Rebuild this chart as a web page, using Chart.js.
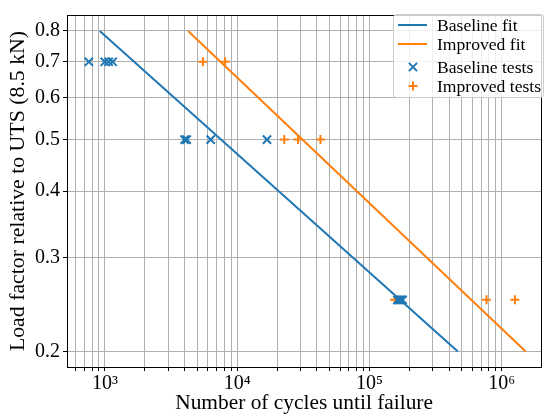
<!DOCTYPE html>
<html lang="en">
<head>
  <meta charset="UTF-8"/>
  <title>S-N curve</title>
  <script src="https://cdn.jsdelivr.net/npm/chart.js"></script>
  <style>
    html, body { margin: 0; padding: 0; background: #fff; }
    #wrap { width: 549px; height: 416px; }
  </style>
</head>
<body>
  <div id="wrap"><canvas id="snChart"></canvas></div>
  <script>
    // test data (cycles, load factor)
    const baselineCycles = [755, 995, 1066, 1143, 4000, 4150, 6300, 16800, 163000, 168000, 173000, 178000]
    const baselineLoad = [0.7, 0.7, 0.7, 0.7, 0.5, 0.5, 0.5, 0.5, 0.25, 0.25, 0.25, 0.25]
    const improvedCycles = [5500, 8100, 22700, 28800, 42600, 155000, 768000, 1260000]
    const improvedLoad = [0.7, 0.7, 0.5, 0.5, 0.5, 0.25, 0.25, 0.25]
    // fitted lines, end points
    const baselineFitCycles = [913, 466000]
    const baselineFitLoad = [0.8, 0.2]
    const improvedFitCycles = [4250, 1520000]
    const improvedFitLoad = [0.8, 0.2]
    const yTicks = [0.2, 0.3, 0.4, 0.5, 0.6, 0.7, 0.8]
    const xDecades = [2, 3, 4, 5, 6]

    const BLUE = '#1f77b4', ORANGE = '#ff7f0e'
    const SERIF = "'Liberation Serif', 'DejaVu Serif', serif"
    const sup = { 3: '\u00b3', 4: '\u2074', 5: '\u2075', 6: '\u2076' }

    const pts = (xs, ys) => xs.map((x, i) => ({ x: x, y: ys[i] }))

    // all 1..9 x 10^k positions for the log grid
    const xTickVals = []
    xDecades.forEach(d => {
      for (let m = 1; m <= 9; m++) xTickVals.push(m * Math.pow(10, d))
    })

    const frame = {
      id: 'frame',
      beforeDatasetsDraw(chart) {
        const { ctx, chartArea: a } = chart
        ctx.save()
        ctx.strokeStyle = '#000'
        ctx.lineWidth = 1
        ctx.strokeRect(Math.round(a.left) + 0.5, Math.round(a.top) + 0.5,
          Math.round(a.right - a.left), Math.round(a.bottom - a.top))
        ctx.restore()
      }
    }

    const boxLegend = {
      id: 'boxLegend',
      afterDraw(chart) {
        const ctx = chart.ctx
        const ds = chart.data.datasets
        const bx = 393, by = 14, bw = 150, bh = 83
        ctx.save()
        ctx.fillStyle = 'rgba(255,255,255,0.8)'
        ctx.strokeStyle = '#cccccc'
        ctx.lineWidth = 1
        ctx.beginPath()
        ctx.roundRect(bx + 0.5, by + 0.5, bw, bh, 3)
        ctx.fill()
        ctx.stroke()
        ctx.font = '17.6px ' + SERIF
        ctx.textBaseline = 'middle'
        ctx.fillStyle = '#000'
        const rows = [25, 44, 67, 86]
        ds.forEach((d, i) => {
          const y = rows[i]
          ctx.strokeStyle = d.borderColor
          if (d.showLine) {
            ctx.lineWidth = 2
            ctx.beginPath()
            ctx.moveTo(398, y)
            ctx.lineTo(427, y)
            ctx.stroke()
          } else {
            Chart.helpers.drawPoint(ctx, {
              pointStyle: d.pointStyle, radius: d.pointRadius, borderWidth: d.borderWidth
            }, 413, y)
          }
          ctx.fillText(d.label, 437, y + 1)
        })
        ctx.restore()
      }
    }

    const chart = new Chart(document.getElementById('snChart'), {
      type: 'scatter',
      data: {
        datasets: [
          { label: 'Baseline fit', data: pts(baselineFitCycles, baselineFitLoad), showLine: true,
            borderColor: BLUE, borderWidth: 2, pointRadius: 0, order: 2 },
          { label: 'Improved fit', data: pts(improvedFitCycles, improvedFitLoad), showLine: true,
            borderColor: ORANGE, borderWidth: 2, pointRadius: 0, order: 2 },
          { label: 'Baseline tests', data: pts(baselineCycles, baselineLoad), pointStyle: 'crossRot',
            pointRadius: 5.8, borderWidth: 2, borderColor: BLUE, backgroundColor: BLUE, order: 1 },
          { label: 'Improved tests', data: pts(improvedCycles, improvedLoad), pointStyle: 'cross',
            pointRadius: 4.5, borderWidth: 2, borderColor: ORANGE, backgroundColor: ORANGE, order: 1 }
        ]
      },
      options: {
        responsive: true,
        maintainAspectRatio: false,
        animation: false,
        layout: { padding: { top: 7, right: 5, left: 0, bottom: 0 } },
        plugins: { legend: { display: false }, tooltip: { enabled: false } },
        elements: { point: { hoverRadius: 5.5 } },
        scales: {
          x: {
            type: 'logarithmic',
            min: 516, max: 1990000,
            afterBuildTicks: s => { s.ticks = xTickVals.filter(v => v >= s.min && v <= s.max).map(v => ({ value: v })) },
            afterFit: s => { s.height = 49 },
            ticks: {
              autoSkip: false, maxRotation: 0, color: '#000', padding: 1,
              font: { family: SERIF, size: 20 },
              callback: v => {
                const e = Math.round(Math.log10(v))
                return Math.abs(Math.log10(v) - e) < 1e-9 ? '10' + sup[e] : ''
              }
            },
            grid: { color: '#b0b0b0', lineWidth: 1, tickLength: 4, tickColor: '#000' },
            border: { display: false },
            title: { display: true, text: 'Number of cycles until failure', color: '#000',
              font: { family: SERIF, size: 21.4 }, padding: { top: -6, bottom: 0 } }
          },
          y: {
            type: 'logarithmic',
            min: 0.187, max: 0.857,
            afterBuildTicks: s => { s.ticks = yTicks.map(v => ({ value: v })) },
            afterFit: s => { s.width = 67 },
            ticks: {
              autoSkip: false, color: '#000', padding: 3,
              font: { family: SERIF, size: 20 },
              callback: v => v.toFixed(1)
            },
            grid: { color: '#b0b0b0', lineWidth: 1, tickLength: 4, tickColor: '#000' },
            border: { display: false },
            title: { display: true, text: 'Load factor relative to UTS (8.5 kN)', color: '#000',
              font: { family: SERIF, size: 21.8 }, padding: { top: 5, bottom: 0 } }
          }
        }
      },
      plugins: [frame, boxLegend]
    })
  </script>
</body>
</html>
